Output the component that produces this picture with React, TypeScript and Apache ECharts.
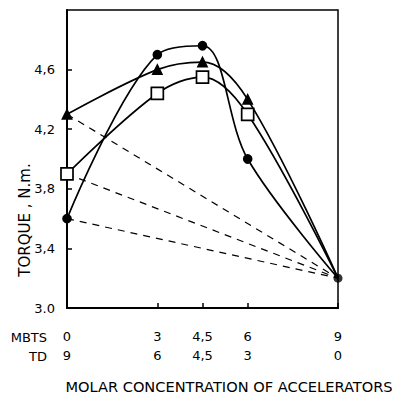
import React, { useEffect, useRef } from "react";
import * as echarts from "echarts";

const mbts = [0, 3, 4.5, 6, 9];
const td = [9, 6, 4.5, 3, 0];
const circleVals = [3.6, 4.7, 4.76, 4.0, 3.2];
const triangleVals = [4.3, 4.6, 4.65, 4.4, 3.2];
const squareVals = [3.9, 4.44, 4.55, 4.3, 3.2];
const dashedStarts = [4.3, 3.9, 3.6];
const dashedEnd = 3.2;
const yTicks = [3.0, 3.4, 3.8, 4.2, 4.6];

const fmt = (v: number) => {
  const r = Math.round(v * 10) / 10;
  if (r === 3) return "3.0";
  return r.toFixed(1).replace(".", ",").replace(/,0$/, "");
};
const fmtX = (v: number) => {
  const r = Math.round(v * 10) / 10;
  return Number.isInteger(r) ? String(r) : r.toFixed(1).replace(".", ",");
};

export default function App() {
  const ref = useRef<HTMLDivElement>(null);
  useEffect(() => {
    if (!ref.current) return;
    const chart = echarts.init(ref.current, null, { renderer: "svg" });
    const last = mbts.length - 1;
    const pts = (vals: number[]) =>
      mbts.map((x, i) =>
        i === last ? { value: [x, vals[i]], symbol: "none" } : { value: [x, vals[i]] }
      );
    const solid = (vals: number[], symbol: string, size: number, fill: string) => ({
      type: "line",
      data: pts(vals),
      smooth: 0.35,
      symbol,
      symbolSize: size,
      showAllSymbol: true,
      lineStyle: { color: "#000", width: 1.7 },
      itemStyle: { color: fill, borderColor: "#000", borderWidth: 1.7 },
      z: 3,
    });
    const dashed = dashedStarts.map((s) => ({
      type: "line",
      data: [
        [mbts[0], s],
        [mbts[last], dashedEnd],
      ],
      symbol: "none",
      lineStyle: { color: "#000", width: 1.2, type: [7, 6] },
      z: 2,
    }));
    const lastCircle = {
      type: "scatter",
      data: [[mbts[last], dashedEnd]],
      symbol: "circle",
      symbolSize: 9,
      itemStyle: { color: "#000" },
      z: 5,
    };
    chart.setOption({
      animation: false,
      grid: {
        left: 67,
        right: 64,
        top: 10,
        bottom: 86,
        show: true,
        borderColor: "#000",
        borderWidth: 1.5,
      },
      xAxis: {
        type: "value",
        min: 0,
        max: 9,
        splitLine: { show: false },
        axisLine: { show: true, lineStyle: { color: "#000", width: 2 } },
        axisTick: {
          show: true,
          inside: true,
          length: 5,
          customValues: [3, 4.5, 6, 9],
          lineStyle: { color: "#000", width: 1.5 },
        },
        axisLabel: {
          customValues: mbts,
          margin: 19,
          color: "#000",
          fontFamily: "DejaVu Sans",
          fontSize: 13,
          lineHeight: 19,
          formatter: (v: number) => {
            const i = mbts.indexOf(v);
            if (i < 0) return "";
            return fmtX(mbts[i]) + "\n" + fmtX(td[i]);
          },
        },
      },
      yAxis: {
        type: "value",
        min: 3,
        max: 5,
        interval: 0.4,
        splitLine: { show: false },
        axisLine: { show: true, lineStyle: { color: "#000", width: 2 } },
        axisTick: {
          show: true,
          inside: true,
          length: 5,
          customValues: yTicks,
          lineStyle: { color: "#000", width: 1.5 },
        },
        axisLabel: {
          customValues: yTicks,
          margin: 12,
          color: "#000",
          fontFamily: "DejaVu Sans",
          fontSize: 13,
          formatter: (v: number) => fmt(v),
        },
      },
      graphic: [
        {
          type: "text",
          x: 47,
          y: 337,
          style: {
            text: "MBTS",
            fill: "#000",
            font: "13px 'DejaVu Sans'",
            align: "right",
            verticalAlign: "middle",
          },
        },
        {
          type: "text",
          x: 47,
          y: 356,
          style: {
            text: "TD",
            fill: "#000",
            font: "13px 'DejaVu Sans'",
            align: "right",
            verticalAlign: "middle",
          },
        },
        {
          type: "text",
          x: 229,
          y: 386,
          style: {
            text: "MOLAR CONCENTRATION OF ACCELERATORS",
            fill: "#000",
            font: "14.6px 'DejaVu Sans'",
            align: "center",
            verticalAlign: "middle",
          },
        },
        {
          type: "text",
          x: 25,
          y: 220,
          rotation: Math.PI / 2,
          style: {
            text: "TORQUE , N.m.",
            fill: "#000",
            font: "15px 'DejaVu Sans'",
            align: "center",
            verticalAlign: "middle",
          },
        },
      ],
      series: [
        ...dashed,
        solid(circleVals, "circle", 8, "#000"),
        solid(triangleVals, "triangle", 9, "#000"),
        solid(squareVals, "rect", 12, "#fff"),
        lastCircle,
      ],
    });
    return () => chart.dispose();
  }, []);
  return <div ref={ref} style={{ width: 402, height: 394, position: "absolute", left: 0, top: 0 }} />;
}
